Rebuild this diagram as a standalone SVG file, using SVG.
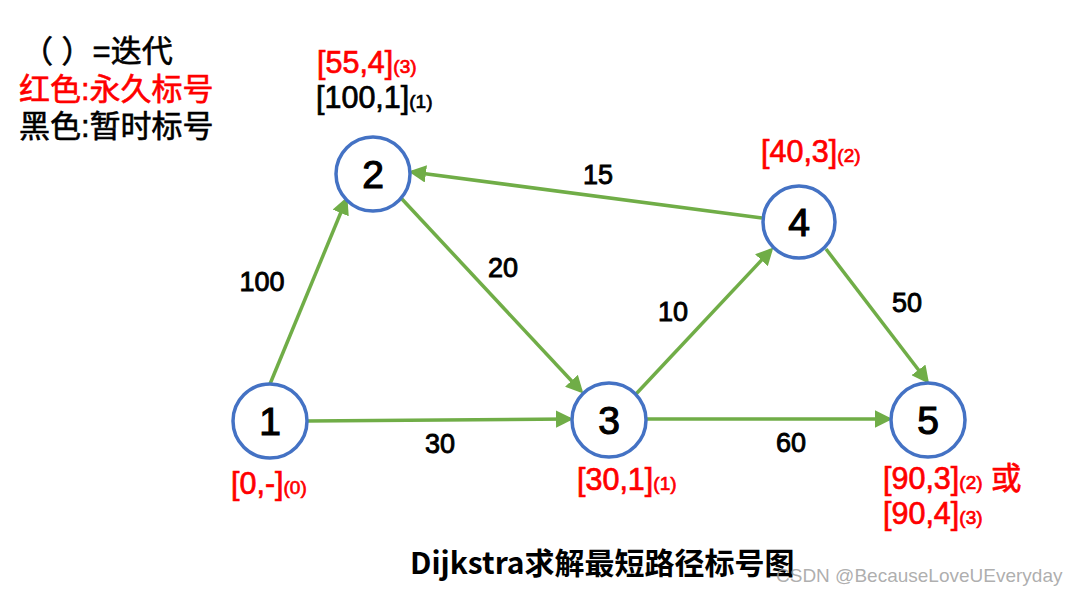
<svg xmlns="http://www.w3.org/2000/svg" width="1076" height="596" viewBox="0 0 1076 596">
<style>
.n circle{fill:#fff;stroke:#4472C4;stroke-width:3.5}
.n text{font-family:"Liberation Sans","Noto Sans CJK SC",sans-serif;font-size:39px;text-anchor:middle;fill:#000;stroke:#000;stroke-width:1.2}
.e line{stroke:#70AD47;stroke-width:3.5;marker-end:url(#ah)}
.el{font-family:"Liberation Sans","Noto Sans CJK SC",sans-serif;font-size:27px;fill:#000;stroke:#000;stroke-width:0.9;text-anchor:middle}
.t{font-family:"Liberation Sans","Noto Sans CJK SC",sans-serif;font-size:30.5px;stroke-width:0.7}
.lg{font-family:"Liberation Sans","Noto Sans CJK SC",sans-serif;font-size:31px;stroke-width:0.6}
.s{font-size:19px}
.r{fill:#FF0000;stroke:#FF0000}
.k{fill:#000;stroke:#000}
</style>
<defs>
<marker id="ah" markerWidth="5" markerHeight="5" refX="4" refY="2.5" orient="auto" markerUnits="strokeWidth">
<path d="M0,0 L5,2.5 L0,5 z" fill="#70AD47"/>
</marker>
</defs>
<rect width="1076" height="596" fill="#fff"/>
<g id="legend" class="lg">
<text x="22" y="62" class="k">（ ）=迭代</text>
<text x="19" y="100" class="r">红色:永久标号</text>
<text x="19" y="137" class="k">黑色:暂时标号</text>
</g>
<g id="edges" class="e">
<line x1="270" y1="384" x2="346" y2="200"/>
<line x1="307" y1="421" x2="570" y2="419"/>
<line x1="401" y1="198" x2="581" y2="391"/>
<line x1="636" y1="394" x2="771" y2="250"/>
<line x1="646" y1="419" x2="889" y2="419"/>
<line x1="762" y1="218" x2="412" y2="172"/>
<line x1="826" y1="249" x2="927" y2="381"/>
</g>
<g id="edge-labels" class="el">
<text x="262" y="291">100</text>
<text x="440" y="453">30</text>
<text x="503" y="277">20</text>
<text x="673" y="321">10</text>
<text x="791" y="452">60</text>
<text x="598" y="184">15</text>
<text x="907" y="312">50</text>
</g>
<g id="node1" class="n"><circle cx="270" cy="421" r="37"/><text x="270" y="435">1</text></g>
<g id="node2" class="n"><circle cx="373" cy="174" r="37"/><text x="373" y="188">2</text></g>
<g id="node3" class="n"><circle cx="609" cy="420" r="37"/><text x="609" y="434">3</text></g>
<g id="node4" class="n"><circle cx="799" cy="222" r="36"/><text x="799" y="236">4</text></g>
<g id="node5" class="n"><circle cx="928" cy="420" r="37"/><text x="928" y="434">5</text></g>
<g id="labels" class="t">
<text x="317" y="73" class="r">[55,4]<tspan class="s">(3)</tspan></text>
<text x="316" y="108" class="k">[100,1]<tspan class="s">(1)</tspan></text>
<text x="761" y="162" class="r">[40,3]<tspan class="s">(2)</tspan></text>
<text x="231" y="494" class="r">[0,-]<tspan class="s">(0)</tspan></text>
<text x="577" y="490" class="r">[30,1]<tspan class="s">(1)</tspan></text>
<text x="883" y="489" class="r">[90,3]<tspan class="s">(2)</tspan> 或</text>
<text x="883" y="524" class="r">[90,4]<tspan class="s">(3)</tspan></text>
</g>
<text x="410" y="574" font-family="'Noto Sans CJK SC',sans-serif" font-size="30" font-weight="bold" fill="#000">Dijkstra求解最短路径标号图</text>
<text x="776" y="582" font-family="'Liberation Sans','Noto Sans CJK SC',sans-serif" font-size="19" fill="#999" fill-opacity="0.8">CSDN @BecauseLoveUEveryday</text>
</svg>
